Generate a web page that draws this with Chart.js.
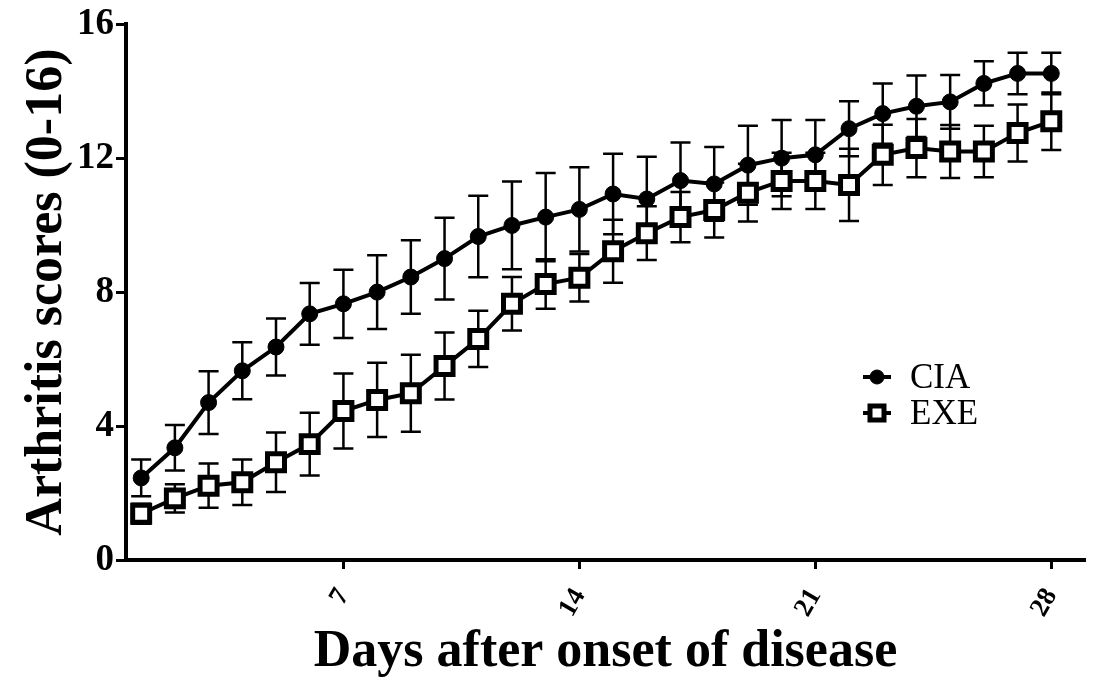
<!DOCTYPE html>
<html>
<head>
<meta charset="utf-8">
<script src="https://cdn.jsdelivr.net/npm/chart.js@4/dist/chart.umd.min.js"></script>
<style>
  html, body { margin: 0; padding: 0; background: #fff; }
  #wrap { width: 1103px; height: 684px; position: relative; }
</style>
</head>
<body>
<div id="wrap"><canvas id="chartarea"></canvas></div>
<script>
// values (mean +/- SEM)
var days = [1, 2, 3, 4, 5, 6, 7, 8, 9, 10, 11, 12, 13, 14, 15, 16, 17, 18, 19, 20, 21, 22, 23, 24, 25, 26, 27, 28];
var ciaMean = [2.45, 3.35, 4.7, 5.65, 6.36, 7.35, 7.65, 8.0, 8.45, 9.0, 9.66, 9.99, 10.24, 10.47, 10.93, 10.78, 11.33, 11.23, 11.79, 12.0, 12.1, 12.88, 13.33, 13.55, 13.68, 14.23, 14.53, 14.53];
var ciaSem = [0.55, 0.68, 0.94, 0.85, 0.85, 0.92, 1.02, 1.1, 1.1, 1.22, 1.22, 1.31, 1.32, 1.26, 1.2, 1.26, 1.14, 1.1, 1.18, 1.14, 1.04, 0.82, 0.9, 0.92, 0.8, 0.66, 0.62, 0.62];
var exeMean = [1.38, 1.84, 2.22, 2.32, 2.92, 3.46, 4.45, 4.78, 4.98, 5.79, 6.6, 7.65, 8.24, 8.43, 9.22, 9.76, 10.24, 10.45, 10.97, 11.32, 11.32, 11.2, 12.1, 12.3, 12.2, 12.2, 12.75, 13.1];
var exeSem = [0.3, 0.42, 0.66, 0.68, 0.89, 0.94, 1.12, 1.11, 1.15, 1.0, 0.84, 0.8, 0.74, 0.71, 0.94, 0.8, 0.75, 0.82, 0.86, 0.84, 0.84, 1.08, 0.9, 0.87, 0.79, 0.77, 0.85, 0.86];
var xTicks = [7, 14, 21, 28];
var yTicks = [0, 4, 8, 12, 16];

var serif = "'Liberation Serif', 'Times New Roman', serif";

function toPoints(means) {
    return days.map(function (d, i) { return { x: d, y: means[i] }; });
}

// error bars under the markers
var errorBars = {
    id: 'errorBars',
    beforeDatasetsDraw: function (chart) {
        var ctx = chart.ctx;
        var xs = chart.scales.x, ys = chart.scales.y;
        ctx.save();
        ctx.strokeStyle = '#000';
        ctx.lineWidth = 2.5;
        chart.data.datasets.forEach(function (ds) {
            ds.sem.forEach(function (e, i) {
                var px = xs.getPixelForValue(days[i]);
                var top = ys.getPixelForValue(ds.data[i].y + e);
                var bot = ys.getPixelForValue(ds.data[i].y - e);
                ctx.beginPath();
                ctx.moveTo(px, top); ctx.lineTo(px, bot);
                ctx.moveTo(px - 10, top); ctx.lineTo(px + 10, top);
                ctx.moveTo(px - 10, bot); ctx.lineTo(px + 10, bot);
                ctx.stroke();
            });
        });
        ctx.restore();
    }
};

// legend sits inside the plot, lower right
var innerLegend = {
    id: 'innerLegend',
    afterDatasetsDraw: function (chart) {
        var ctx = chart.ctx;
        var lx = 877, ly = 377;
        ctx.save();
        ctx.font = "35px " + serif;
        ctx.textBaseline = 'middle';
        var sets = [chart.data.datasets[1], chart.data.datasets[0]];
        sets.forEach(function (ds, k) {
            var y = ly + k * 36;
            ctx.strokeStyle = '#000';
            ctx.lineWidth = 4;
            ctx.beginPath();
            ctx.moveTo(lx - 14, y); ctx.lineTo(lx + 14, y);
            ctx.stroke();
            ctx.fillStyle = ds.pointBackgroundColor;
            ctx.lineWidth = ds.pointBorderWidth;
            ctx.beginPath();
            if (ds.pointStyle === 'rect') {
                ctx.rect(lx - 7, y - 7, 14, 14);
            } else {
                ctx.arc(lx, y, 7, 0, Math.PI * 2);
            }
            ctx.fill();
            ctx.stroke();
            ctx.fillStyle = '#000';
            ctx.fillText(ds.label, lx + 33, y + 2);
        });
        ctx.restore();
    }
};

var data = {
    datasets: [{
        label: 'EXE',
        data: toPoints(exeMean),
        sem: exeSem,
        order: 0,
        borderColor: '#000',
        borderWidth: 4,
        pointStyle: 'rect',
        pointRadius: 12,
        pointBorderWidth: 5,
        pointBackgroundColor: '#fff',
        pointBorderColor: '#000',
        tension: 0
    }, {
        label: 'CIA',
        data: toPoints(ciaMean),
        sem: ciaSem,
        order: 1,
        borderColor: '#000',
        borderWidth: 4,
        pointStyle: 'circle',
        pointRadius: 8,
        pointBorderWidth: 1,
        pointBackgroundColor: '#000',
        pointBorderColor: '#000',
        tension: 0
    }]
};

var options = {
    animation: false,
    responsive: false,
    layout: { padding: { left: 0, right: 18, top: 0, bottom: 0 } },
    plugins: {
        legend: { display: false },
        tooltip: { enabled: false }
    },
    scales: {
        x: {
            type: 'linear',
            min: 0.55,
            max: 29,
            afterBuildTicks: function (scale) {
                scale.ticks = xTicks.map(function (v) { return { value: v }; });
            },
            afterFit: function (scale) { scale.height = 124; },
            border: { display: true, color: '#000', width: 4 },
            grid: { display: true, drawOnChartArea: false, drawTicks: true, tickLength: 9, tickWidth: 3, tickColor: '#000' },
            ticks: {
                color: '#000',
                minRotation: 60,
                maxRotation: 60,
                padding: 14,
                font: { family: serif, size: 27, weight: 'bold' }
            },
            title: {
                display: true,
                text: 'Days after onset of disease',
                color: '#000',
                padding: { top: 0, bottom: 0 },
                font: { family: serif, size: 52, weight: 'bold' }
            }
        },
        y: {
            min: 0,
            max: 16,
            afterBuildTicks: function (scale) {
                scale.ticks = yTicks.map(function (v) { return { value: v }; });
            },
            afterFit: function (scale) { scale.width = 126; },
            border: { display: true, color: '#000', width: 4 },
            grid: { display: true, drawOnChartArea: false, drawTicks: true, tickLength: 10, tickWidth: 3, tickColor: '#000' },
            ticks: {
                color: '#000',
                padding: 2,
                font: { family: serif, size: 37, weight: 'bold' }
            },
            title: {
                display: true,
                text: 'Arthritis scores (0-16)',
                color: '#000',
                padding: { top: 16, bottom: 0 },
                font: { family: serif, size: 52, weight: 'bold' }
            }
        }
    }
};

var canvas = document.getElementById('chartarea');
canvas.width = 1103;
canvas.height = 684;
new Chart(canvas, {
    type: 'line',
    data: data,
    options: options,
    plugins: [errorBars, innerLegend]
});
</script>
</body>
</html>
